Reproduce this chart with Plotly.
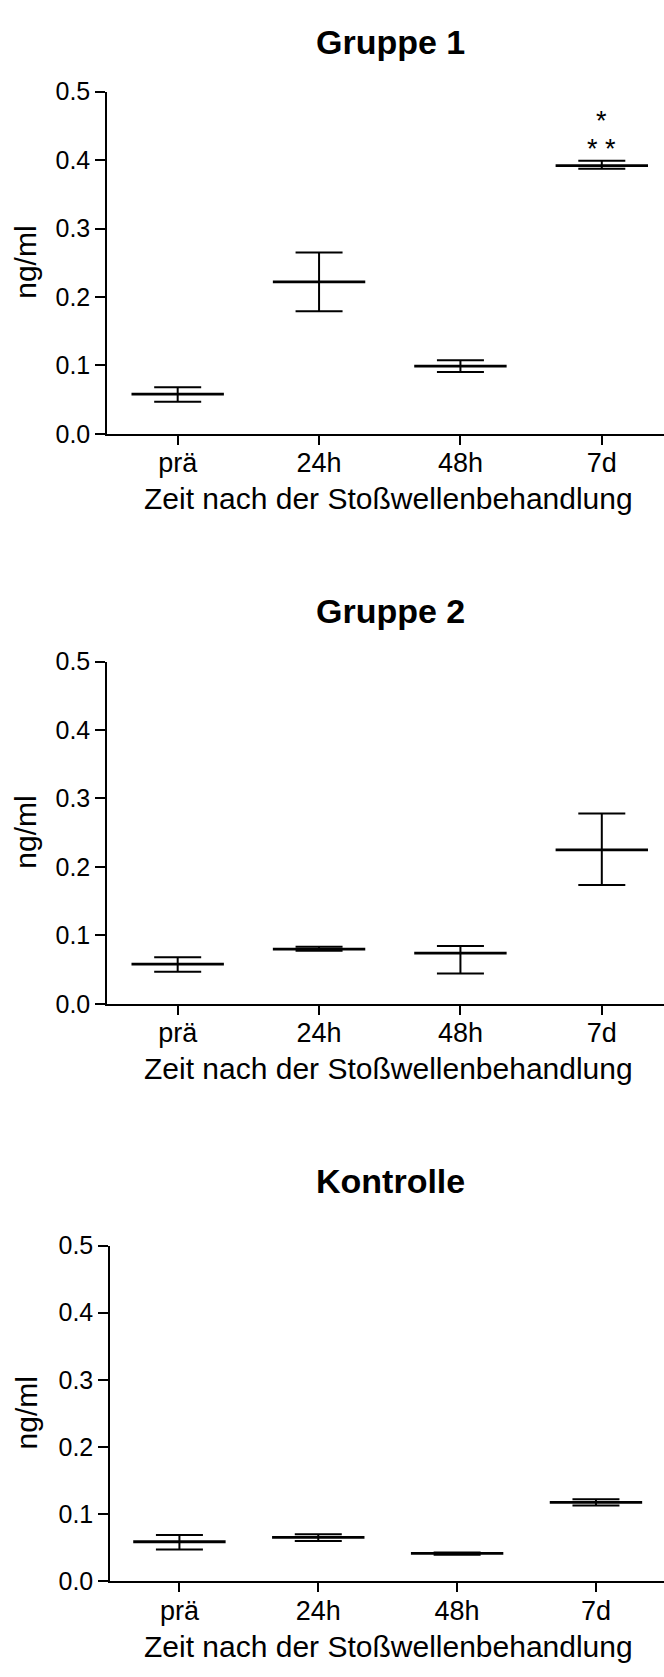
import plotly.graph_objects as go

# ---------------- data ----------------
categories = ["prä", "24h", "48h", "7d"]
panel_titles = ["Gruppe 1", "Gruppe 2", "Kontrolle"]

g1_mean = [0.058, 0.222, 0.099, 0.392]
g1_upper = [0.068, 0.265, 0.1075, 0.399]
g1_lower = [0.047, 0.179, 0.0905, 0.3875]

g2_mean = [0.058, 0.080, 0.074, 0.225]
g2_upper = [0.068, 0.0835, 0.0845, 0.278]
g2_lower = [0.047, 0.0775, 0.0445, 0.1735]

k_mean = [0.059, 0.0655, 0.0417, 0.1177]
k_upper = [0.069, 0.0703, 0.0432, 0.1224]
k_lower = [0.0475, 0.060, 0.0397, 0.113]

y_tickvals = [0.0, 0.1, 0.2, 0.3, 0.4, 0.5]
y_ticktext = ["0.0", "0.1", "0.2", "0.3", "0.4", "0.5"]
x_title = "Zeit nach der Stoßwellenbehandlung"
y_title = "ng/ml"

sig_labels = ["*", "* *"]
sig_category = "7d"
sig_values = [0.457, 0.416]

# ---------------- layout ----------------
W, H = 664, 1677
FONT = "Liberation Sans, Arial, Helvetica, sans-serif"

panels = [
    dict(mean=g1_mean, upper=g1_upper, lower=g1_lower,
         top=79, bottom=427, left=107, xmax=3.44, title_y=28),
    dict(mean=g2_mean, upper=g2_upper, lower=g2_lower,
         top=658.5, bottom=1006.7, left=107, xmax=3.44, title_y=607),
    dict(mean=k_mean, upper=k_upper, lower=k_lower,
         top=1252.5, bottom=1594, left=110, xmax=3.49, title_y=1187),
]


def py(v):
    return 1 - v / H


fig = go.Figure()
annotations = []

for i, p in enumerate(panels):
    n = "" if i == 0 else str(i + 1)
    xa, ya = "x" + n, "y" + n
    plus = [u - m for u, m in zip(p["upper"], p["mean"])]
    minus = [m - l for m, l in zip(p["mean"], p["lower"])]
    fig.add_trace(go.Scatter(
        x=categories, y=p["mean"], xaxis=xa, yaxis=ya,
        mode="markers",
        marker=dict(symbol="line-ew", size=66, color="black",
                    line=dict(color="black", width=2.8)),
        error_y=dict(type="data", array=plus, arrayminus=minus,
                     symmetric=False, color="black", thickness=2, width=23.5),
        showlegend=False, hoverinfo="skip",
    ))
    fig.layout["xaxis" + n] = dict(
        domain=[p["left"] / W, 1.0], anchor=ya,
        type="category", categoryorder="array", categoryarray=categories,
        range=[-0.5, p["xmax"]],
        showline=True, linecolor="black", linewidth=1.5,
        ticks="outside", ticklen=9, tickwidth=1.5, tickcolor="black",
        ticklabelstandoff=-5,
        tickfont=dict(family=FONT, size=27, color="black"),
        showgrid=False, zeroline=False, fixedrange=True,
    )
    fig.layout["yaxis" + n] = dict(
        domain=[py(p["bottom"]), py(p["top"])], anchor=xa,
        range=[0, 0.5], tickvals=y_tickvals, ticktext=y_ticktext,
        showline=True, linecolor="black", linewidth=1.5,
        ticks="outside", ticklen=10, tickwidth=1.5, tickcolor="black",
        tickfont=dict(family=FONT, size=25, color="black"),
        showgrid=False, zeroline=False, fixedrange=True,
    )
    # panel title
    annotations.append(dict(
        text="<b>%s</b>" % panel_titles[i], xref="paper", yref="paper",
        x=390 / W, y=py(p["title_y"]), xanchor="center", yanchor="middle",
        showarrow=False, font=dict(family=FONT, size=34, color="black"),
    ))
    # x axis title
    annotations.append(dict(
        text=x_title, xref="paper", yref="paper",
        x=388 / W, y=py(p["bottom"] + 66), xanchor="center", yanchor="middle",
        showarrow=False, font=dict(family=FONT, size=30, color="black"),
    ))
    # y axis title
    annotations.append(dict(
        text=y_title, xref="paper", yref="paper", textangle=-90,
        x=26 / W, y=py((p["top"] + p["bottom"]) / 2), xanchor="center", yanchor="middle",
        showarrow=False, font=dict(family=FONT, size=30, color="black"),
    ))

# significance marks (Gruppe 1, 7d)
for lab, v in zip(sig_labels, sig_values):
    annotations.append(dict(
        text=lab, xref="x", yref="y", x=sig_category, y=v,
        xanchor="center", yanchor="middle", showarrow=False,
        font=dict(family=FONT, size=27, color="black"),
    ))

fig.update_layout(
    width=W, height=H,
    margin=dict(l=0, r=0, t=0, b=0),
    paper_bgcolor="white", plot_bgcolor="white",
    annotations=annotations,
    showlegend=False,
)

fig.write_html(
    "out.html",
    config={"displayModeBar": False},
    post_script="document.body.style.margin='0';document.body.style.overflow='hidden';",
)
